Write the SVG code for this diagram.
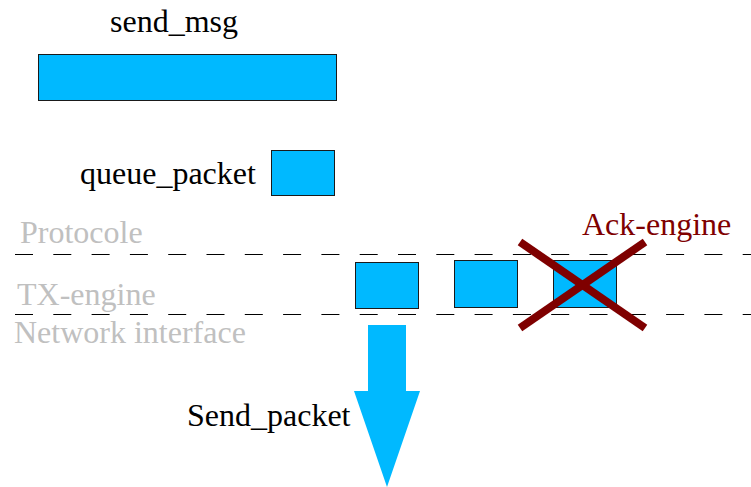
<svg xmlns="http://www.w3.org/2000/svg" width="751" height="487" viewBox="0 0 751 487">
<style>
.box{fill:#00b9ff;stroke:#1a1a1a;stroke-width:1}
.t{font-family:"Liberation Serif",serif;font-size:32px;fill:#000}
.g{font-family:"Liberation Serif",serif;font-size:32px;fill:#c0c0c0}
.dash{stroke:#000;stroke-width:1.2;stroke-dasharray:18 20.3;fill:none}
.x{stroke:#7f0000;stroke-width:8;fill:none}
</style>
<rect width="751" height="487" fill="#fff"/>
<g id="layers">
<line class="dash" x1="15" y1="254.5" x2="751" y2="254.5"/>
<line class="dash" x1="15" y1="314.5" x2="751" y2="314.5"/>
<text class="g" x="20" y="243">Protocole</text>
<text class="g" x="17" y="305">TX-engine</text>
<text class="g" x="14" y="343">Network interface</text>
</g>
<g id="send_msg">
<text class="t" x="110" y="32">send_msg</text>
<rect class="box" x="38.5" y="54.5" width="298" height="46"/>
</g>
<g id="queue_packet">
<text class="t" x="80" y="184">queue_packet</text>
<rect class="box" x="271.5" y="150.5" width="63" height="45"/>
</g>
<g id="tx1"><rect class="box" x="355.5" y="262.5" width="63" height="46"/></g>
<g id="tx2"><rect class="box" x="454.5" y="260.5" width="63" height="47"/></g>
<g id="ack">
<rect class="box" x="553.5" y="260.5" width="63" height="47"/>
<line class="x" x1="520" y1="242" x2="645" y2="328"/>
<line class="x" x1="645" y1="242" x2="520" y2="328"/>
<text x="582" y="235" font-family="Liberation Serif,serif" font-size="32" fill="#7f0000">Ack-engine</text>
</g>
<g id="connectors">
<polygon points="368,325 406,325 406,391 420,391 387,487 354,391 368,391" fill="#00b9ff"/>
<text class="t" x="187" y="426">Send_packet</text>
</g>
</svg>
